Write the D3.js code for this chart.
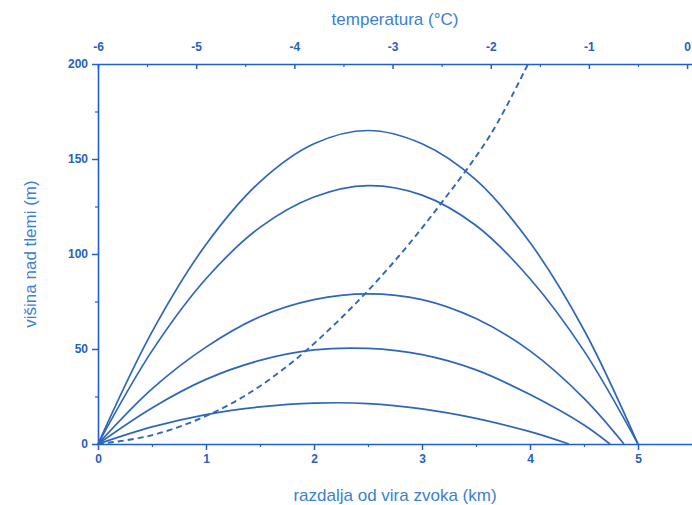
<!DOCTYPE html>
<html><head><meta charset="utf-8">
<script src="https://cdn.jsdelivr.net/npm/d3@7"></script>
<style>
html,body{margin:0;padding:0;background:#fff;overflow:hidden}
svg{display:block;font-family:"Liberation Sans",Arial,sans-serif}
</style></head><body>
<svg id="c" width="692" height="505"></svg>
<script>
// distance along ground (km) and height (m) for each ray
const xs1 = [0,0.5,1,1.5,2,2.5,3,3.5,4,4.5,5];
const h1  = [0,59,105,138,158,165,158,139,106,60,0];
const xs2 = [0,0.5,1,1.5,2,2.5,3,3.5,4,4.5,5];
const h2  = [0,49,87,114,130,136,131,115,87,49,0];
const xs3 = [0,0.5,1,1.5,2,2.5,3,3.5,4,4.5,4.87];
const h3  = [0,29,51,67,76,79,76,66,49,24,0];
const xs4 = [0,0.5,1,1.5,2,2.5,3,3.5,4,4.5,4.74];
const h4  = [0,19,34,44,49.5,50.3,47,39,26,10,0];
const xs5 = [0,0.5,1,1.5,2,2.5,3,3.5,4,4.36];
const h5  = [0,9,15.5,19.5,21.5,21.3,18.5,13.5,6.5,0];
// temperature profile (°C) vs height (m)
const tempT = [-6,-5.5,-5,-4.5,-4,-3.5,-3,-2.5,-2,-1.62];
const tempH = [0,4,12.5,25.5,44,67.5,95,127,163,200];
// tick values
const xTicks = [0,1,2,3,4,5];
const yTicks = [0,50,100,150,200];
const tTicks = [-6,-5,-4,-3,-2,-1,0];

const svg = d3.select("#c");
const L = 98, T = 64, W = 594, H = 380;
const x = d3.scaleLinear().domain([0,5.5]).range([L, L+W]);
const xt = d3.scaleLinear().domain([-6,0.05]).range([L, L+W]);
const y = d3.scaleLinear().domain([0,200]).range([T+H, T]);

const axisCol = "#1f5fd0", labCol = "#2860c0", titleCol = "#3b80d2", curveCol = "#3066b8";
const fmt = d => String(d);

function styleAxis(g){
  g.select(".domain").attr("stroke", axisCol).attr("stroke-width", 1.6);
  g.selectAll(".tick line").attr("stroke", axisCol).attr("stroke-width", 1.5);
  g.selectAll(".tick text").attr("fill", labCol).attr("font-weight","bold").attr("font-size", 12)
    .attr("font-family", "Arial, 'Liberation Sans', sans-serif");
}
function minor(g){ g.selectAll("text").remove(); g.select(".domain").remove();
  g.selectAll(".tick line").attr("stroke", axisCol).attr("stroke-width", 1.2); }

// minor ticks
svg.append("g").attr("transform",`translate(0,${T+H})`)
  .call(d3.axisBottom(x).tickValues(d3.range(0.5,5.6,1)).tickSize(3)).call(minor);
svg.append("g").attr("transform",`translate(${L},0)`)
  .call(d3.axisLeft(y).tickValues([25,75,125,175]).tickSize(3)).call(minor);
svg.append("g").attr("transform",`translate(0,${T})`)
  .call(d3.axisBottom(xt).tickValues(d3.range(-5.5,0,1)).tickSize(3)).call(minor);

// major axes
svg.append("g").attr("transform",`translate(0,${T+H})`)
  .call(d3.axisBottom(x).tickValues(xTicks).tickFormat(fmt).tickSize(6).tickPadding(4).tickSizeOuter(0))
  .call(styleAxis);
svg.append("g").attr("transform",`translate(${L},0)`)
  .call(d3.axisLeft(y).tickValues(yTicks).tickFormat(fmt).tickSize(6).tickPadding(4).tickSizeOuter(0))
  .call(styleAxis);
const topAx = svg.append("g").attr("transform",`translate(0,${T})`)
  .call(d3.axisBottom(xt).tickValues(tTicks).tickFormat(fmt).tickSize(5).tickSizeOuter(0))
  .call(styleAxis);
topAx.selectAll(".tick text").attr("y", -22).attr("dy", "0.71em");

// axis titles
svg.append("text").attr("x", 395).attr("y", 25).attr("text-anchor","middle")
  .attr("fill", titleCol).attr("font-size", 17).text("temperatura (°C)");
svg.append("text").attr("x", 395).attr("y", 501).attr("text-anchor","middle")
  .attr("fill", titleCol).attr("font-size", 17).text("razdalja od vira zvoka (km)");
svg.append("text").attr("transform","translate(36,254) rotate(-90)").attr("text-anchor","middle")
  .attr("fill", titleCol).attr("font-size", 17).text("višina nad tlemi (m)");

// rays
const line = d3.line().x(d=>x(d[0])).y(d=>y(d[1])).curve(d3.curveCatmullRom);
[[xs1,h1],[xs2,h2],[xs3,h3],[xs4,h4],[xs5,h5]].forEach(([a,b])=>{
  svg.append("path").attr("d", line(d3.zip(a,b))).attr("fill","none")
    .attr("stroke", curveCol).attr("stroke-width", 1.7);
});
// temperature profile
const tline = d3.line().x(d=>xt(d[0])).y(d=>y(d[1])).curve(d3.curveCatmullRom);
svg.append("path").attr("d", tline(d3.zip(tempT,tempH))).attr("fill","none")
  .attr("stroke", curveCol).attr("stroke-width", 1.9).attr("stroke-dasharray","6,4");
</script></body></html>
